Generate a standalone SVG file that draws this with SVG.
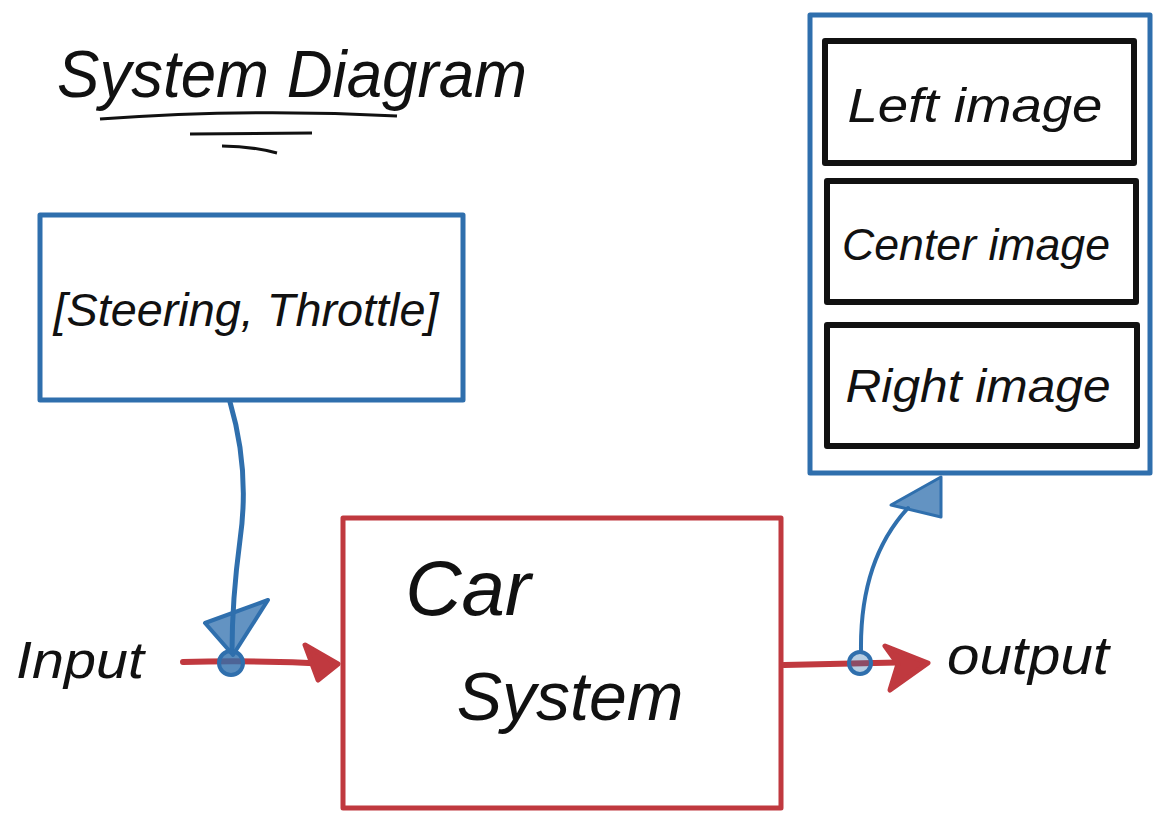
<svg xmlns="http://www.w3.org/2000/svg" width="1168" height="826" viewBox="0 0 1168 826">
<style>
.hand{font-family:"Liberation Sans",Arial,sans-serif;font-style:italic;fill:#111;}
.blue{stroke:#2f6fad;fill:none;stroke-linecap:round;stroke-linejoin:round;}
.red{stroke:#c0393f;fill:none;stroke-linecap:round;stroke-linejoin:round;}
.blk{stroke:#111;fill:none;stroke-linejoin:round;}
</style>
<rect width="1168" height="826" fill="#fff"/>
<g id="title">
<text class="hand" x="292" y="97" font-size="66" text-anchor="middle" textLength="470" lengthAdjust="spacingAndGlyphs">System Diagram</text>
<path class="blk" d="M100 119 Q250 108 397 116" stroke-width="3"/>
<path class="blk" d="M190 134 L312 133" stroke-width="3"/>
<path class="blk" d="M222 146 Q250 146 277 153" stroke-width="3"/>
</g>
<g id="steering">
<rect x="40" y="215" width="423" height="185" class="blue" stroke-width="5"/>
<text class="hand" x="246" y="326" font-size="46" text-anchor="middle" textLength="385" lengthAdjust="spacingAndGlyphs">[Steering, Throttle]</text>
</g>
<g id="car">
<rect x="343" y="518" width="438" height="290" class="red" stroke-width="5"/>
<text class="hand" x="468" y="615" font-size="78" text-anchor="middle">Car</text>
<text class="hand" x="570" y="720" font-size="68" text-anchor="middle">System</text>
</g>
<g id="images">
<rect x="810" y="15" width="340" height="458" class="blue" stroke-width="5"/>
<g id="left-image">
<rect x="825" y="41" width="309" height="122" class="blk" stroke-width="6"/>
<text class="hand" x="975" y="122" font-size="48" text-anchor="middle" textLength="255" lengthAdjust="spacingAndGlyphs">Left image</text>
</g>
<g id="center-image">
<rect x="827" y="181" width="309" height="121" class="blk" stroke-width="6"/>
<text class="hand" x="976" y="260" font-size="44" text-anchor="middle" textLength="268" lengthAdjust="spacingAndGlyphs">Center image</text>
</g>
<g id="right-image">
<rect x="827" y="325" width="310" height="121" class="blk" stroke-width="6"/>
<text class="hand" x="978" y="402" font-size="46" text-anchor="middle" textLength="265" lengthAdjust="spacingAndGlyphs">Right image</text>
</g>
</g>
<g id="input-label"><text class="hand" x="80" y="678" font-size="52" text-anchor="middle" textLength="128" lengthAdjust="spacingAndGlyphs">Input</text></g>
<g id="output-label"><text class="hand" x="1028" y="674" font-size="54" text-anchor="middle" textLength="162" lengthAdjust="spacingAndGlyphs">output</text></g>
<g id="connectors">
<path class="red" d="M183 662 Q260 660 330 664" stroke-width="6"/>
<path d="M305 645 L338 664 L318 680 Z" fill="#c0393f" stroke="#c0393f" stroke-width="5" stroke-linejoin="round"/>
<path class="red" d="M784 665 L920 662" stroke-width="6"/>
<path d="M885 646 L928 663 L890 690 L898 664 Z" fill="#c0393f" stroke="#c0393f" stroke-width="5" stroke-linejoin="round"/>
<path class="blue" d="M230 402 Q250 470 240 540 Q232 600 232 652" stroke-width="5"/>
<path d="M205 623 L268 600 L233 655 Z" fill="#2f6fad" fill-opacity="0.75" stroke="#2f6fad" stroke-width="4" stroke-linejoin="round"/>
<circle cx="231" cy="663" r="12" fill="#2f6fad" fill-opacity="0.8" stroke="#2f6fad" stroke-width="4"/>
<path class="blue" d="M861 650 Q860 560 908 508" stroke-width="4"/>
<path d="M891 505 L941 477 L941 517 Z" fill="#2f6fad" fill-opacity="0.75" stroke="#2f6fad" stroke-width="3" stroke-linejoin="round"/>
<circle cx="860" cy="663" r="11" fill="#2f6fad" fill-opacity="0.35" stroke="#2f6fad" stroke-width="4"/>
</g>
</svg>
